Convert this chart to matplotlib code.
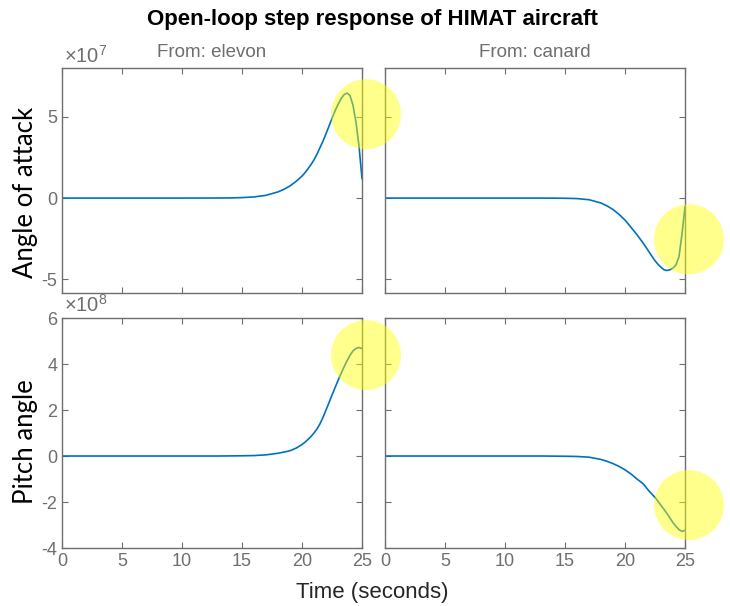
import numpy as np
import matplotlib
matplotlib.use('Agg')
import matplotlib.pyplot as plt
from matplotlib.patches import Circle
from matplotlib.ticker import FuncFormatter
from matplotlib.transforms import ScaledTranslation

plt.rcParams['font.family'] = ['Liberation Sans', 'DejaVu Sans']
plt.rcParams['mathtext.fontset'] = 'custom'
plt.rcParams['mathtext.rm'] = 'Liberation Sans'
plt.rcParams['axes.unicode_minus'] = False

# time samples (seconds)
t = [0, 5, 10, 13, 14, 15, 16, 17, 18, 18.5, 19, 19.5, 20,
     20.25, 20.5, 20.75, 21, 21.25, 21.5, 21.75, 22, 22.25, 22.5, 22.75,
     23, 23.25, 23.5, 23.75, 24, 24.25, 24.5, 24.75, 25]

# angle of attack (x1e7) and pitch angle (x1e8)
aoa_elevon = [0, 0, 0, 0.005, 0.01, 0.03, 0.07, 0.17, 0.38, 0.54, 0.75, 1.02, 1.35,
              1.56, 1.8, 2.06, 2.35, 2.7, 3.1, 3.5, 3.95, 4.42, 4.9, 5.35,
              5.75, 6.1, 6.35, 6.45, 6.3, 5.7, 4.65, 3.2, 1.2]
aoa_canard = [0, 0, 0, 0, -0.005, -0.01, -0.03, -0.1, -0.3, -0.48, -0.7, -1.0, -1.35,
              -1.57, -1.8, -2.02, -2.25, -2.5, -2.75, -3.02, -3.3, -3.58, -3.85, -4.07,
              -4.25, -4.4, -4.45, -4.4, -4.3, -4.1, -3.6, -2.2, -0.55]
pitch_elevon = [0, 0, 0, 0, 0.005, 0.01, 0.02, 0.05, 0.12, 0.17, 0.23, 0.34, 0.5,
                0.6, 0.72, 0.85, 1.0, 1.18, 1.4, 1.68, 2.0, 2.32, 2.65, 2.97,
                3.28, 3.58, 3.87, 4.14, 4.38, 4.57, 4.68, 4.72, 4.67]
pitch_canard = [0, 0, 0, 0, -0.005, -0.01, -0.02, -0.05, -0.15, -0.23, -0.33, -0.45, -0.6,
                -0.69, -0.78, -0.89, -1.0, -1.1, -1.2, -1.36, -1.52, -1.66, -1.8, -1.97,
                -2.15, -2.32, -2.5, -2.7, -2.9, -3.06, -3.2, -3.28, -3.23]

inputs = ['From: elevon', 'From: canard']
outputs = ['Angle of attack', 'Pitch angle']
exponents = [7, 8]
ylims = [(-5.83, 7.98), (-4, 6)]
yticks = [[-5, 0, 5], [-4, -2, 0, 2, 4, 6]]
xticks = [0, 5, 10, 15, 20, 25]
data = [[aoa_elevon, aoa_canard], [pitch_elevon, pitch_canard]]
# highlight circles: (time, value) centre for each panel
highlights = [[(25.33, 5.15), (25.33, -2.53)], [(25.33, 4.39), (25.33, -2.13)]]

grey = '#6e6e6e'
fig = plt.figure(figsize=(7.3, 6.06), dpi=100)
lefts = [62 / 730, 385 / 730]
width = 300 / 730
rows = [(0.5165, 0.371), (0.0957, 0.3795)]

axes = []
for i in range(2):
    s = 10.0 ** exponents[i]
    for j in range(2):
        ax = fig.add_axes([lefts[j], rows[i][0], width, rows[i][1]])
        axes.append(ax)
        ax.plot(t, np.array(data[i][j]) * s, color='#0072BD', lw=1.2)
        ax.set_xlim(0, 25)
        ax.set_ylim(ylims[i][0] * s, ylims[i][1] * s)
        ax.set_xticks(xticks)
        ax.set_yticks(np.array(yticks[i]) * s)
        ax.yaxis.set_major_formatter(FuncFormatter(lambda v, p, s=s: f'{v / s:g}'))
        ax.tick_params(direction='in', top=True, right=True, length=4,
                       color=grey, labelcolor=grey, labelsize=13,
                       labelbottom=(i == 1), labelleft=(j == 0))
        if j == 0:
            ax.text(0.005, 1.008, '×10$^{%d}$' % exponents[i], transform=ax.transAxes,
                    ha='left', va='bottom', fontsize=14.5, color=grey)
        for sp in ax.spines.values():
            sp.set_color(grey)
            sp.set_linewidth(1.0)

fig.text(0.51, 0.967, 'Open-loop step response of HIMAT aircraft',
         ha='center', va='center', fontsize=16, fontweight='bold')
for j in range(2):
    fig.text(lefts[j] + width / 2, 0.914, inputs[j], ha='center', va='center',
             fontsize=13.5, color=grey)
fig.text(0.035, 0.683, outputs[0], rotation=90, ha='center',
         va='center', fontsize=18.5, family=['Lato', 'DejaVu Sans'])
fig.text(0.035, 0.271, outputs[1], rotation=90, ha='center',
         va='center', fontsize=18.5, family=['Lato', 'DejaVu Sans'])
fig.text(0.51, 0.023, 'Time (seconds)', ha='center', va='center',
         fontsize=16, color='#262626')

# yellow highlight circles anchored to data points
for i in range(2):
    s = 10.0 ** exponents[i]
    for j in range(2):
        ax = axes[2 * i + j]
        tx, vy = highlights[i][j]
        off = ScaledTranslation(tx, vy * s, ax.transData)
        c = Circle((0, 0), 0.35, transform=fig.dpi_scale_trans + off,
                   facecolor='#ffff00', edgecolor='none', alpha=0.45,
                   clip_on=False)
        fig.add_artist(c)

fig.savefig('out.png', dpi=100)
